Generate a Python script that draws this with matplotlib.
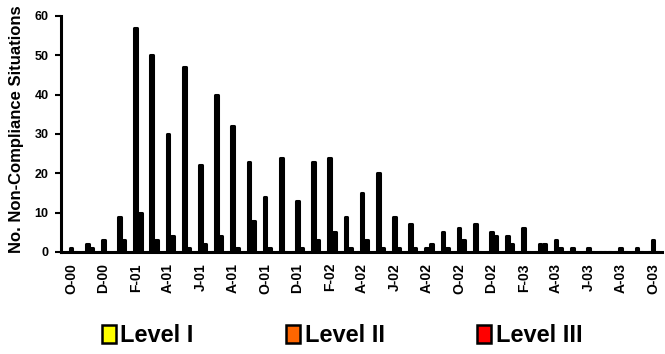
import matplotlib
matplotlib.use("Agg")
import matplotlib.pyplot as plt
from matplotlib.patches import Patch
import numpy as np

plt.rcParams['font.family'] = ['Liberation Sans', 'DejaVu Sans']

tick_labels = ["O-00", "D-00", "F-01", "A-01", "J-01", "A-01", "O-01", "D-01", "F-02",
               "A-02", "J-02", "A-02", "O-02", "D-02", "F-03", "A-03", "J-03", "A-03", "O-03"]

level1 = [1, 2, 3, 9, 57, 50, 30, 47, 22, 40, 32, 23, 14, 24, 13, 23, 24, 9, 15, 20,
          9, 7, 1, 5, 6, 7, 5, 4, 6, 2, 3, 1, 1, 0, 1, 1, 3]
level2 = [0, 1, 0, 3, 10, 3, 4, 1, 2, 4, 1, 8, 1, 0, 1, 3, 5, 1, 3, 1,
          1, 1, 2, 1, 3, 0, 4, 2, 0, 2, 1, 0, 0, 0, 0, 0, 0]
level3 = [0] * 37

series_names = ["Level I", "Level II", "Level III"]
colors = ["#FFFF00", "#FF6600", "#FF0000"]

W, H = 665, 354
fig = plt.figure(figsize=(W / 100, H / 100), dpi=100)
ax = fig.add_axes([61 / W, (H - 252) / H, (662 - 61) / W, (252 - 16) / H])

x = np.arange(len(level1))
bw = 0.17
lw = 2.2
for vals, off, c in [(level3, -0.25, colors[2]), (level1, 0.0, colors[0]), (level2, 0.28, colors[1])]:
    ax.bar(x + off, vals, width=bw, color=c, edgecolor="black", linewidth=lw,
           joinstyle="round", zorder=2)

ax.set_xlim(-0.62, 36.55)
ax.set_ylim(0, 60)
ax.set_yticks(np.arange(0, 61, 10))
ax.set_xticks(x[::2])
ax.set_xticklabels(tick_labels, rotation=90, fontsize=10, fontweight="bold")
for lab in ax.get_yticklabels():
    lab.set_fontweight("bold")
    lab.set_fontsize(9)
ax.tick_params(axis="y", direction="out", length=4, width=1.5, pad=5)
ax.tick_params(axis="x", length=0, pad=8)

for s in ["top", "right"]:
    ax.spines[s].set_visible(False)
for s in ["left", "bottom"]:
    ax.spines[s].set_linewidth(2.2)
    ax.spines[s].set_zorder(3)

fig.text(17 / W, (H - 253) / H, "No. Non-Compliance Situations", rotation=90,
         ha="center", va="bottom", fontsize=12, fontweight="bold")

handles = [Patch(facecolor=c, edgecolor="black", linewidth=1.8) for c in colors]
fig.legend(handles, series_names, loc="center", bbox_to_anchor=(342 / W, (H - 336) / H),
           ncol=3, frameon=False, prop={"weight": "bold", "size": 17},
           handlelength=0.6, handleheight=0.8, handletextpad=0.2, columnspacing=3.9,
           borderpad=0, borderaxespad=0)

fig.savefig("out.png", dpi=100)
